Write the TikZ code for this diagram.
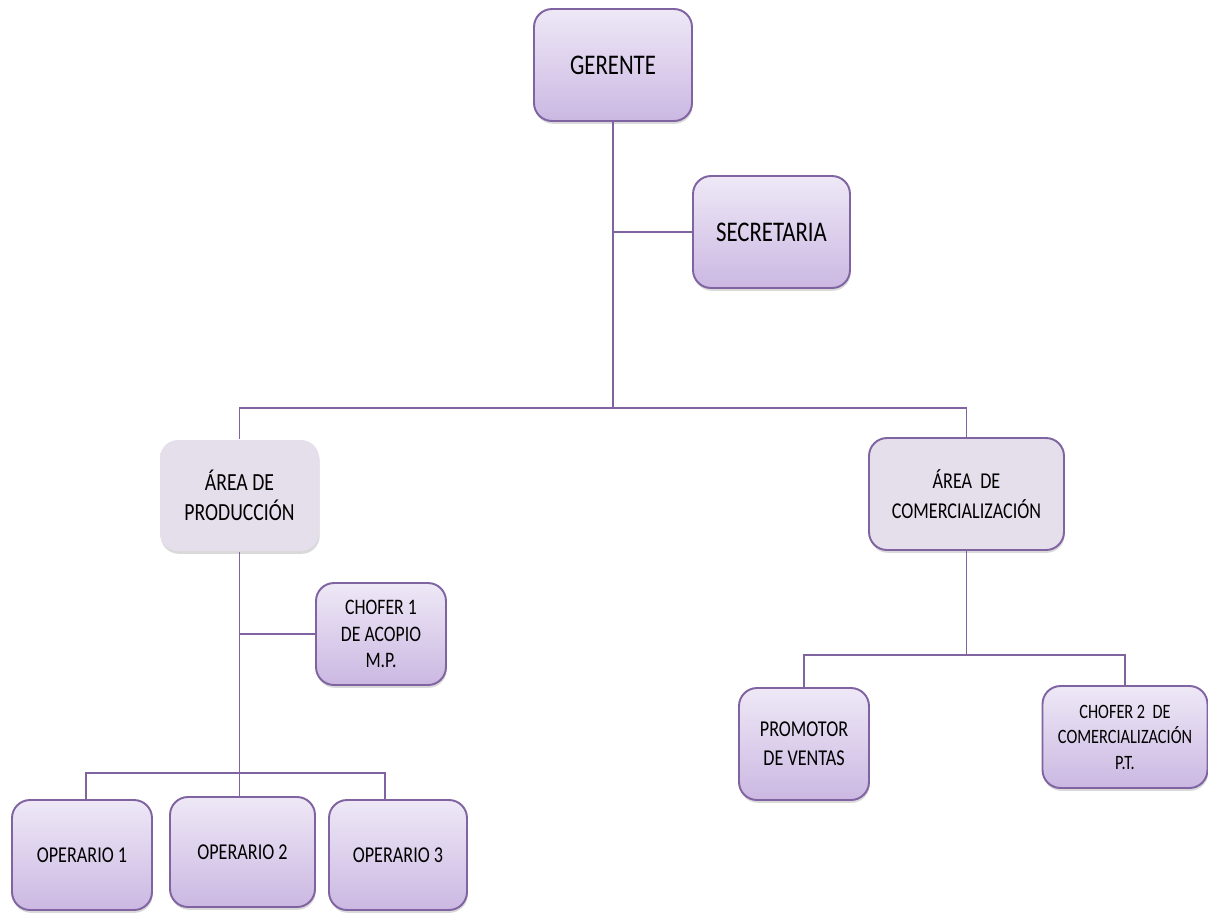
\documentclass[tikz,border=0pt]{standalone}
\usepackage{fontspec}
\setmainfont{Carlito}
\newfontfamily\estrecha[FakeStretch=0.8]{Carlito}
\usetikzlibrary{positioning, shadows}

\definecolor{borde}{HTML}{8064A2}
\definecolor{lilaA}{HTML}{EEE8F6}
\definecolor{lilaB}{HTML}{CBB8E2}
\definecolor{gris}{HTML}{E5DFEC}

\tikzset{
    cargo/.style={draw=borde, line width=1.1pt, rounded corners=0.36cm,
        top color=lilaA, bottom color=lilaB, align=center, inner sep=2pt,
        drop shadow={shadow xshift=0.4pt, shadow yshift=-1.6pt, opacity=0.3}},
    area/.style={cargo, top color=gris, bottom color=gris},
    linea/.style={draw=borde, line width=1.1pt}
}

\begin{document}
\begin{tikzpicture}[x=0.02cm, y=-0.02cm]
                \useasboundingbox (0,0) rectangle (1208,914);

                \node[cargo, minimum width=3.16cm, minimum height=2.24cm, font=\estrecha\fontsize{16.2}{18}\selectfont] (ger) at (613,65) {GERENTE};
                \node[cargo, minimum width=3.14cm, minimum height=2.24cm, font=\estrecha\fontsize{16.2}{18}\selectfont] (sec) at (771.5,232) {SECRETARIA};

                \node[area, draw=none, minimum width=3.18cm, minimum height=2.22cm, font=\estrecha\fontsize{14}{17}\selectfont] (prod) at (239.5,495.5) {ÁREA DE\\PRODUCCIÓN};
                \node[area, minimum width=3.9cm, minimum height=2.24cm, font=\estrecha\fontsize{12.9}{17}\selectfont] (com) at (966.5,494) {ÁREA~~DE\\COMERCIALIZACIÓN};

                \node[cargo, minimum width=2.6cm, minimum height=2.04cm, font=\estrecha\fontsize{12.6}{15}\selectfont] (cho1) at (381,634) {CHOFER 1\\DE ACOPIO\\M.P.};

                \node[cargo, minimum width=2.8cm, minimum height=2.2cm, font=\estrecha\fontsize{12.9}{15}\selectfont] (op1) at (82,855) {OPERARIO 1};
                \node[cargo, minimum width=2.9cm, minimum height=2.2cm, font=\estrecha\fontsize{12.9}{15}\selectfont] (op2) at (242.5,852) {OPERARIO 2};
                \node[cargo, minimum width=2.76cm, minimum height=2.2cm, font=\estrecha\fontsize{12.9}{15}\selectfont] (op3) at (398,855) {OPERARIO 3};

                \node[cargo, minimum width=2.6cm, minimum height=2.24cm, font=\estrecha\fontsize{12.9}{16.5}\selectfont] (prom) at (804,744) {PROMOTOR\\DE VENTAS};
                \node[cargo, minimum width=3.3cm, minimum height=2.04cm, font=\estrecha\fontsize{11.6}{14.5}\selectfont] (cho2) at (1125,737) {CHOFER 2~~DE\\COMERCIALIZACIÓN\\P.T.};

                \coordinate (barra) at (613,408);
                \coordinate (barop) at (237,773);
                \coordinate (barco) at (971,655);

                \draw[linea] (ger.south) -- (barra);
                \draw[linea] (sec.west) -- (sec.west -| ger.south);
                \draw[linea] (prod.north) |- (barra) -| (com.north);

                \draw[linea] (prod.south) -- (prod.south |- op2.north);
                \draw[linea] (cho1.west) -- (cho1.west -| prod.south);
                \draw[linea] ([xshift=0.08cm]op1.north) |- (barop) -| ([xshift=-0.26cm]op3.north);

                \draw[linea] (com.south) -- (com.south |- barco);
                \draw[linea] (prom.north) |- (barco) -| (cho2.north);
            \end{tikzpicture}
\end{document}
